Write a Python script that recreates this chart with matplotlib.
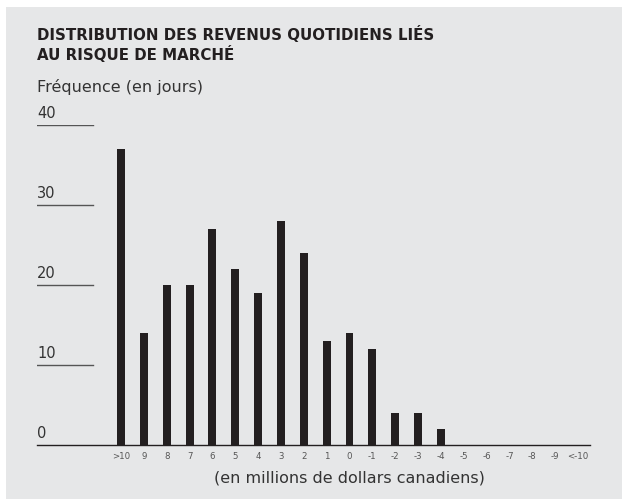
import matplotlib
matplotlib.use('Agg')
import matplotlib.pyplot as plt
from matplotlib.patches import Rectangle

plt.rcParams['font.family'] = ['DejaVu Sans']

categories = ['>10', '9', '8', '7', '6', '5', '4', '3', '2', '1', '0',
              '-1', '-2', '-3', '-4', '-5', '-6', '-7', '-8', '-9', '<-10']
frequency = [37, 14, 20, 20, 27, 22, 19, 28, 24, 13, 14,
             12, 4, 4, 2, 0, 0, 0, 0, 0, 0]
y_ticks = [0, 10, 20, 30, 40]

INK = '#231f20'
BG = '#e6e7e8'
W, H = 622, 499

fig = plt.figure(figsize=(W / 100, H / 100), dpi=100, facecolor='white')
fig.patches.append(Rectangle((6 / W, 0), 1, 1 - 7 / H, transform=fig.transFigure,
                             facecolor=BG, edgecolor='none', zorder=-5))

# axes box in pixels: x 37..590, y 125..445
left, right, top, bottom = 37, 590, 125, 445
ax = fig.add_axes([left / W, 1 - bottom / H, (right - left) / W, (bottom - top) / H])
ax.set_facecolor('none')

x = list(range(len(categories)))
ax.bar(x, frequency, width=0.35, color=INK, zorder=3)

step = 22.85
ax.set_xlim((left - 121) / step, (right - 121) / step)
ax.set_ylim(0, 40)

for s in ['top', 'right', 'left']:
    ax.spines[s].set_visible(False)
ax.spines['bottom'].set_color(INK)
ax.spines['bottom'].set_linewidth(1.0)

ax.set_xticks(x)
ax.set_xticklabels(categories, fontsize=6.2, color='#555555')
ax.tick_params(axis='x', length=0, pad=5)
ax.set_yticks([])

seg = (93 - left) / (right - left)
for v in y_ticks:
    if v > 0:
        ax.axhline(v, xmin=0, xmax=seg, color='#555555', lw=1.0)
    ax.text(0, v + 0.5, str(v), transform=ax.get_yaxis_transform(),
            ha='left', va='bottom', fontsize=10.5, color='#333333')

ax.text(10, -4.1, '(en millions de dollars canadiens)', ha='center', va='center',
        fontsize=11.5, color='#333333')

fig.text(left / W, 1 - 35 / H, 'DISTRIBUTION DES REVENUS QUOTIDIENS LIÉS',
         ha='left', va='center', fontsize=10.85, fontweight='bold', color=INK)
fig.text(left / W, 1 - 54 / H, 'AU RISQUE DE MARCHÉ',
         ha='left', va='center', fontsize=10.85, fontweight='bold', color=INK)
fig.text(left / W, 1 - 87 / H, 'Fréquence (en jours)', ha='left', va='center',
         fontsize=11.5, color='#333333')

fig.savefig('out.png', dpi=100, facecolor='white')
